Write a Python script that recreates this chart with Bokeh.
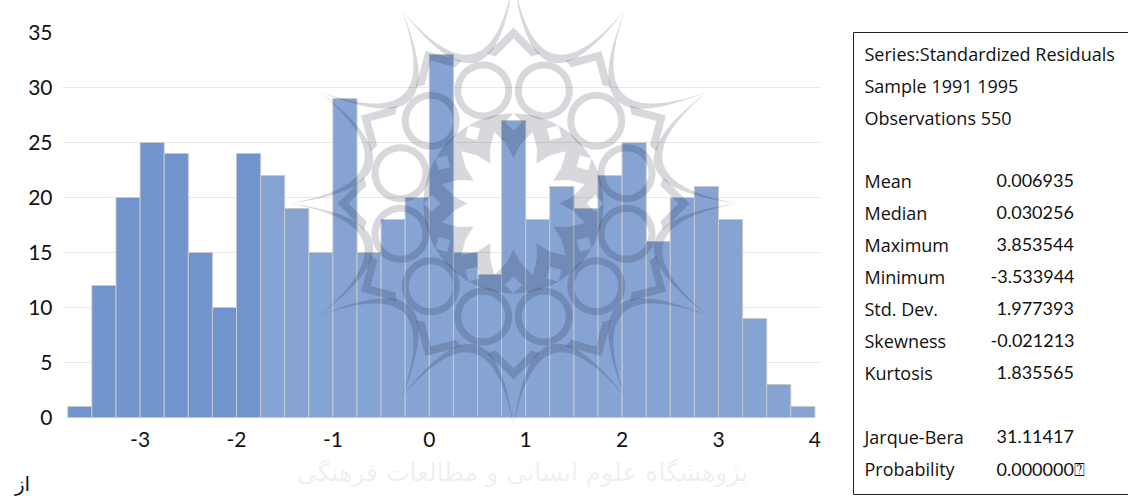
import math
from bokeh.plotting import figure
from bokeh.models import (ColumnDataSource, FixedTicker, Label, Range1d)
from bokeh.embed import file_html
from bokeh.resources import INLINE

# ---- data ----
bin_centers = [-3.625, -3.375, -3.125, -2.875, -2.625, -2.375, -2.125, -1.875,
               -1.625, -1.375, -1.125, -0.875, -0.625, -0.375, -0.125, 0.125,
               0.375, 0.625, 0.875, 1.125, 1.375, 1.625, 1.875, 2.125,
               2.375, 2.625, 2.875, 3.125, 3.375, 3.625, 3.875]
counts = [1, 12, 20, 25, 24, 15, 10, 24,
          22, 19, 15, 29, 15, 18, 20, 33,
          15, 13, 27, 18, 21, 19, 22, 25,
          16, 20, 21, 18, 9, 3, 1]
dark_bars = 8
x_ticks = [-3, -2, -1, 0, 1, 2, 3, 4]
y_ticks = [0, 5, 10, 15, 20, 25, 30, 35]
grid_ticks = [5, 10, 15, 20, 25, 30]
stat_header = ["Series:Standardized Residuals", "Sample 1991 1995", "Observations 550"]
stat_names = ["Mean", "Median", "Maximum", "Minimum", "Std. Dev.", "Skewness", "Kurtosis"]
stat_values = ["0.006935", "0.030256", "3.853544", "-3.533944", "1.977393", "-0.021213", "1.835565"]
test_names = ["Jarque-Bera", "Probability"]
test_values = ["31.11417", "0.000000\u2370"]

# ---- page pixel -> data helpers (used only for decoration and layout) ----
W, H = 1128, 499

def X(px):
    return (px - 428.8) / 96.4

def Y(py):
    return (417 - py) / 11.0

FONT = "Lato"
LABEL_FONT = "Open Sans"

p = figure(width=W, height=H, output_backend="svg", toolbar_location=None,
           x_range=Range1d(X(0), X(W)), y_range=Range1d(Y(H), Y(0)),
           min_border=0, outline_line_color=None, background_fill_color="white")
p.xgrid.visible = False
p.ygrid.visible = False
p.xaxis.fixed_location = 0
p.yaxis.fixed_location = X(62)

for ax, ticks in ((p.xaxis, x_ticks), (p.yaxis, y_ticks)):
    ax.ticker = FixedTicker(ticks=ticks)
    ax.major_label_overrides = {t: str(t) for t in ticks}
    ax.axis_line_color = None
    ax.major_tick_line_color = None
    ax.minor_tick_line_color = None
    ax.major_label_text_font = FONT
    ax.major_label_text_font_size = "21px"
    ax.major_label_text_color = "#111111"
p.yaxis.major_label_standoff = 4
p.xaxis.major_label_standoff = 8

p.segment(x0=[X(62)] * len(grid_ticks), x1=[X(821)] * len(grid_ticks),
          y0=grid_ticks, y1=grid_ticks, line_color="#E9E9E9", line_width=1)

colors = ["#7094CB"] * dark_bars + ["#85A3D3"] * (len(counts) - dark_bars)
src = ColumnDataSource(dict(x=bin_centers, top=counts, color=colors))
p.vbar(x="x", top="top", bottom=0, width=0.25, source=src, fill_color="color",
       line_color="#C6C8CC", line_width=1)

# ---- watermark rosette (decoration) ----
CX, CY = 513.0, 203.0

def pol(r, deg):
    a = math.radians(deg)
    return (CX + r * math.sin(a), CY - r * math.cos(a))

def bez(deg0, deg1, rtip, rmid, n=24):
    A = pol(rtip, deg0)
    B = pol(rtip, deg1)
    M = pol(rmid, (deg0 + deg1) / 2)
    C = (2 * M[0] - (A[0] + B[0]) / 2, 2 * M[1] - (A[1] + B[1]) / 2)
    out = []
    for i in range(n + 1):
        t = i / n
        out.append(((1 - t) ** 2 * A[0] + 2 * t * (1 - t) * C[0] + t * t * B[0],
                    (1 - t) ** 2 * A[1] + 2 * t * (1 - t) * C[1] + t * t * B[1]))
    return out

polys_x, polys_y = [], []

def add_poly(outer, holes=()):
    rings = [outer] + list(holes)
    polys_x.append([[[X(q[0]) for q in r] for r in rings]])
    polys_y.append([[[Y(q[1]) for q in r] for r in rings]])

for k in range(12):
    d = 30 * k
    add_poly(bez(d, d + 30, 224, 155) + bez(d, d + 30, 224, 146)[::-1])
    add_poly([pol(176, d), pol(152, d + 10), pol(148, d + 7), pol(165, d),
              pol(148, d - 7), pol(152, d - 10)])
    cx, cy = pol(117, d + 15)
    add_poly([(cx + 29 * math.cos(i / 20 * math.pi), cy + 29 * math.sin(i / 20 * math.pi)) for i in range(40)],
             [[(cx + 22 * math.cos(i / 20 * math.pi), cy + 22 * math.sin(i / 20 * math.pi)) for i in range(40)]])

band = [pol(90, i * 2) for i in range(180)]
star = []
holes = []
for k in range(12):
    d = 30 * k
    star += [pol(46, d), pol(60, d + 7), pol(74, d + 15), pol(60, d + 23)]
    holes.append([pol(90, d), pol(82, d - 6), pol(73, d), pol(82, d + 6)])
add_poly(band, [star] + holes)

p.multi_polygons(xs=polys_x, ys=polys_y, fill_color="#141A28", fill_alpha=0.17, line_color=None)

# faint caption below the chart
p.add_layout(Label(x=X(522), y=Y(472), text="پژوهشگاه علوم انسانی و مطالعات فرهنگی",
                   text_font="DejaVu Sans", text_font_size="25px", text_align="center",
                   text_baseline="middle", text_color="#000000", text_alpha=0.08))
p.add_layout(Label(x=X(22), y=Y(483), text="از", text_font="DejaVu Sans",
                   text_font_size="20px", text_align="center", text_baseline="middle",
                   text_color="#111111"))

# ---- statistics box ----
p.line(x=[X(1140), X(853), X(853), X(1140)], y=[Y(32), Y(32), Y(494), Y(494)],
       line_color="#222222", line_width=1)

def add_text(px, py, s, font=FONT):
    p.add_layout(Label(x=X(px), y=Y(py), text=s, text_font=font, text_font_size="18px",
                       text_align="left", text_baseline="middle", text_color="#111111"))

for i, s in enumerate(stat_header):
    add_text(864, 53 + 32 * i, s, LABEL_FONT)
for i, (n, v) in enumerate(zip(stat_names, stat_values)):
    py = 180 + 32 * i
    add_text(864, py, n, LABEL_FONT)
    add_text(990 if v.startswith("-") else 996, py, v)
for i, (n, v) in enumerate(zip(test_names, test_values)):
    py = 436 + 32 * i
    add_text(864, py, n, LABEL_FONT)
    add_text(996, py, v)

open("out.html", "w").write(file_html(p, INLINE))
